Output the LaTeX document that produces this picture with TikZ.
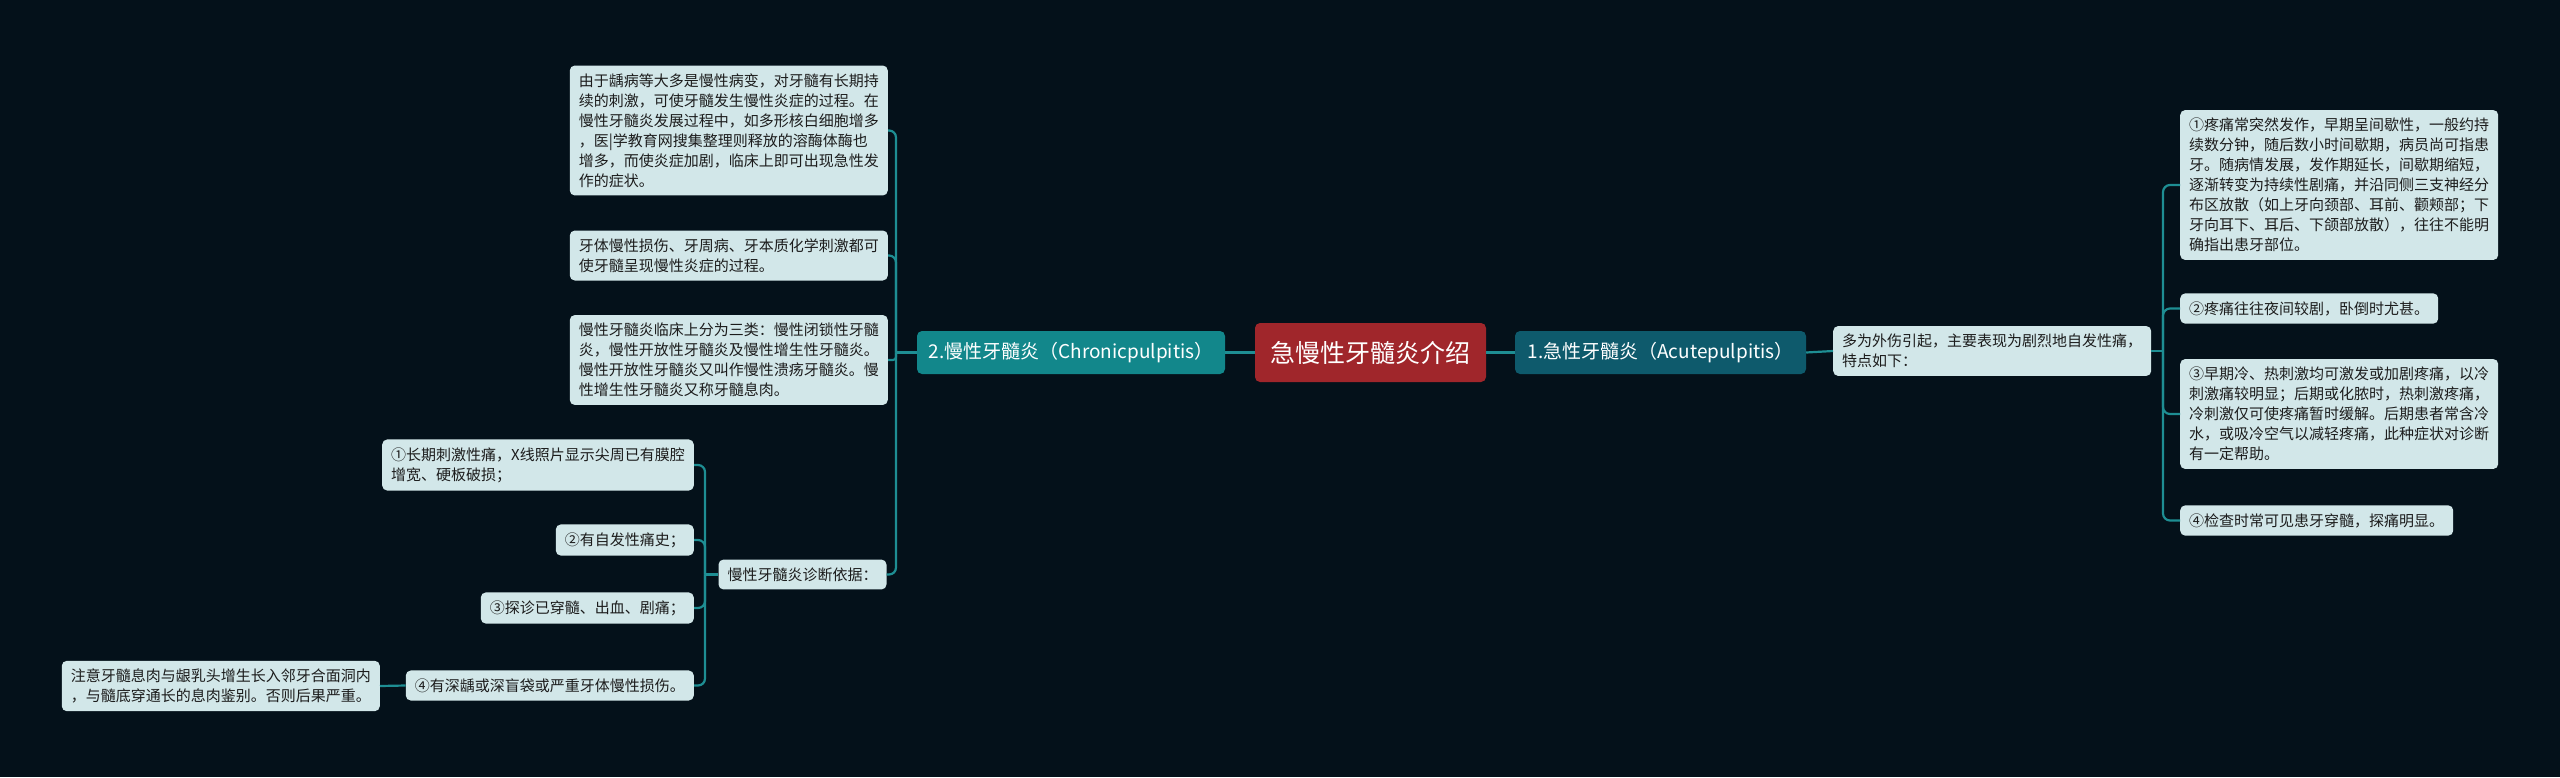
\documentclass[tikz,border=0pt]{standalone}
\usepackage{fontspec}
\newfontfamily\cjk{Noto Sans CJK SC}
\usetikzlibrary{calc}
\definecolor{bg}{HTML}{04111A}
\definecolor{conn}{HTML}{1E8E93}
\definecolor{boxfill}{HTML}{D2E7E9}
\definecolor{rootfill}{HTML}{A0262B}
\definecolor{chronfill}{HTML}{12878B}
\definecolor{acutefill}{HTML}{0E5A6C}
\definecolor{txt}{HTML}{1C1C1C}
\tikzset{
  leaf/.style={fill=boxfill, rounded corners=5pt, text=txt, font=\cjk\fontsize{15}{20}\selectfont, align=left, inner xsep=9pt, inner ysep=8pt},
  branchbox/.style={rounded corners=5pt, text=white, font=\cjk\fontsize{19}{23}\selectfont, minimum height=43pt, inner xsep=0pt},
  rootbox/.style={fill=rootfill, rounded corners=5pt, text=white, font=\cjk\fontsize{25}{30}\selectfont, minimum width=231pt, minimum height=59pt, inner xsep=0pt},
  link/.style={draw=conn, line width=2.2pt},
  clink/.style={draw=conn, line width=2.2pt, rounded corners=7pt}
}
\begin{document}
\begin{tikzpicture}[x=1pt,y=-1pt]
\useasboundingbox[fill=bg] (0,0) rectangle (2560,777);
% root and branches
\node[rootbox] (root) at (1370.5,352.5) {急慢性牙髓炎介绍};
\node[branchbox, fill=chronfill, minimum width=308pt] (chron) at (1071,352.5) {2.慢性牙髓炎（Chronicpulpitis）};
\node[branchbox, fill=acutefill, minimum width=291pt] (acute) at (1660.5,352.5) {1.急性牙髓炎（Acutepulpitis）};
% left leaves
\node[leaf, anchor=east] (l1) at (888,130.5) {由于龋病等大多是慢性病变，对牙髓有长期持\\续的刺激，可使牙髓发生慢性炎症的过程。在\\慢性牙髓炎发展过程中，如多形核白细胞增多\\，医|学教育网搜集整理则释放的溶酶体酶也\\增多，而使炎症加剧，临床上即可出现急性发\\作的症状。};
\node[leaf, anchor=east] (l2) at (888,255.5) {牙体慢性损伤、牙周病、牙本质化学刺激都可\\使牙髓呈现慢性炎症的过程。};
\node[leaf, anchor=east] (l3) at (888,360) {慢性牙髓炎临床上分为三类：慢性闭锁性牙髓\\炎，慢性开放性牙髓炎及慢性增生性牙髓炎。\\慢性开放性牙髓炎又叫作慢性溃疡牙髓炎。慢\\性增生性牙髓炎又称牙髓息肉。};
\node[leaf] (diag) at (802.5,574.5) {慢性牙髓炎诊断依据：};
\node[leaf, anchor=east] (d1) at (694,465) {①长期刺激性痛，X线照片显示尖周已有膜腔\\增宽、硬板破损；};
\node[leaf, anchor=east] (d2) at (694,540) {②有自发性痛史；};
\node[leaf, anchor=east] (d3) at (694,608) {③探诊已穿髓、出血、剧痛；};
\node[leaf, anchor=east] (d4) at (694,685.5) {④有深龋或深盲袋或严重牙体慢性损伤。};
\node[leaf, anchor=east] (note) at (380,686) {注意牙髓息肉与龈乳头增生长入邻牙合面洞内\\，与髓底穿通长的息肉鉴别。否则后果严重。};
% right leaves
\node[leaf, anchor=west] (acs) at (1833,351) {多为外伤引起，主要表现为剧烈地自发性痛，\\特点如下：};
\node[leaf, anchor=west] (r1) at (2180,185) {①疼痛常突然发作，早期呈间歇性，一般约持\\续数分钟，随后数小时间歇期，病员尚可指患\\牙。随病情发展，发作期延长，间歇期缩短，\\逐渐转变为持续性剧痛，并沿同侧三支神经分\\布区放散（如上牙向颈部、耳前、颧颊部；下\\牙向耳下、耳后、下颌部放散），往往不能明\\确指出患牙部位。};
\node[leaf, anchor=west] (r2) at (2180,308.5) {②疼痛往往夜间较剧，卧倒时尤甚。};
\node[leaf, anchor=west] (r3) at (2180,414) {③早期冷、热刺激均可激发或加剧疼痛，以冷\\刺激痛较明显；后期或化脓时，热刺激疼痛，\\冷刺激仅可使疼痛暂时缓解。后期患者常含冷\\水，或吸冷空气以减轻疼痛，此种症状对诊断\\有一定帮助。};
\node[leaf, anchor=west] (r4) at (2180,520.5) {④检查时常可见患牙穿髓，探痛明显。};
% trunk points
\coordinate (tL) at (896,352.5);
\coordinate (tD) at (705,574.5);
\coordinate (tR) at (2163,351);
% connectors
\draw[link] (root.west) -- (chron.east);
\draw[link] (root.east) -- (acute.west);
\draw[link] (acute.east) -- (acs.west);
\draw[link] (chron.west) -- (tL);
\draw[clink] (tL) |- (l1.east);
\draw[clink] (tL) |- (l2.east);
\draw[link, rounded corners=3pt] (tL) |- (l3.east);
\draw[clink] (tL) |- (diag.east);
\draw[link] (diag.west) -- (tD);
\draw[clink] (tD) |- (d1.east);
\draw[clink] (tD) |- (d2.east);
\draw[clink] (tD) |- (d3.east);
\draw[clink] (tD) |- (d4.east);
\draw[link] (d4.west) -- (note.east);
\draw[link] (acs.east) -- (tR);
\draw[clink] (tR) |- (r1.west);
\draw[clink] (tR) |- (r2.west);
\draw[clink] (tR) |- (r3.west);
\draw[clink] (tR) |- (r4.west);
\end{tikzpicture}
\end{document}
